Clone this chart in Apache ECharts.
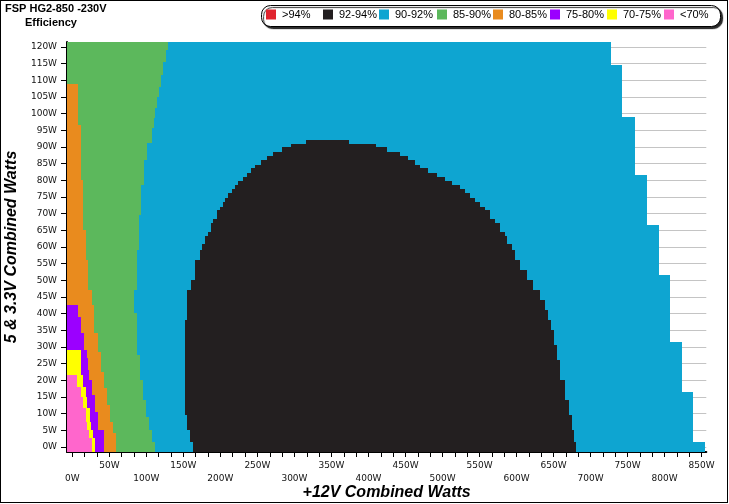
<!DOCTYPE html>
<html><head><meta charset="utf-8">
<script src="https://cdn.jsdelivr.net/npm/echarts@6/dist/echarts.min.js"></script>
<style>
html,body{margin:0;padding:0;background:#fff;}
#c{position:absolute;left:0;top:0;width:729px;height:504px;}
#frame{position:absolute;left:0;top:0;width:728px;height:503px;box-sizing:border-box;border:1px solid #000;pointer-events:none;}
</style></head>
<body><div id="c"></div><div id="frame"></div>
<script>
// ---- data (W units) : each step = [upper 5&3.3V watts of the step, +12V watts boundary]
const legendNames = ['>94%','92-94%','90-92%','85-90%','80-85%','75-80%','70-75%','<70%'];
const legendColors = ['#e0242e','#231f20','#0ea5d1','#5cb85c','#e98b1e','#9b00ff','#ffff00','#ff66cc'];
const maxLoadSteps = [[1.5,855],[16.5,839],[31.5,823],[51.5,807],[66.5,792],[81.5,776],[99,760],[114.5,743],[121.5,727]];
const greenSteps = [[1.5,111.6],[5.1,107.2],[9,103.5],[14.1,99.1],[20.1,95],[27.6,91.4],[40.2,86.9],[47.1,83.3],[59.1,86.7],[69.6,90],[78.6,92.7],[86.1,96.8],[91.1,101.5],[95.6,107.2],[98.6,110.3],[101.6,112],[105.1,113.9],[108.1,116.6],[111.6,119.7],[115.6,122.8],[119.1,126.1],[121.5,129.6]];
const orangeSteps = [[4.2,59],[7.5,54.5],[12.6,50.9],[17.7,46.4],[22.5,42.8],[28.5,38.3],[34.2,34.3],[42.6,29.7],[47.1,26.2],[56,21.5],[65.1,18],[80,14],[96.6,11.7],[108.9,7.3]];
const purpleSteps = [[5.1,42.8],[10.6,34.3],[15.6,30.6],[20.1,26.2],[23.1,23],[26.6,21.6],[29.1,19.4],[34.3,15.8],[38.9,11.7],[42.6,7.3]];
const yellowSteps = [[2.6,30.6],[5.1,28.3],[7.6,24.8],[11.6,23.9],[15.1,20.3],[18.1,18.5],[21.6,14.8],[29.1,11.7]];
const pinkSteps = [[2.6,26.2],[5.1,23],[7.6,20.3],[11.6,18.5],[15.1,14.8],[18.1,11.7],[21.6,6.7]];
// black (92-94%) rows: [upper watts, left +12V boundary, right +12V boundary]
const blackRows = [[1.5,162.9,679.9],[5.1,158.9,677.2],[9.6,154.8,674.5],[14.1,152.1,670.5],[20.1,152.1,665.1],[26.1,152.1,658.3],[30.6,152.1,654.3],[35.1,152.1,650.2],[38.1,152.1,646.2],[41.1,154.8,642.1],[44.1,154.8,638.1],[47.1,154.8,631.3],[50.1,160.2,621.9],[53.1,165.6,613.8],[56.1,165.6,604.3],[59.1,172.5,597.6],[60.9,175.5,593.6],[63.3,179.1,586.8],[64.6,182.8,584],[67.1,186.8,577.3],[68.3,190.3,570.5],[71.1,194.9,563.8],[72.1,199.4,557],[73.6,203,550.3],[74.6,206.1,543.6],[76.1,210.6,536.8],[77.3,215.2,530],[78.6,219.6,523.3],[79.9,224.1,512.5],[81.1,230.8,503],[82.3,235.4,492.3],[83.6,241.2,480.1],[84.6,246.6,469.3],[86.1,254.3,462.6],[87.3,262.4,453.1],[88.6,270.5,442.3],[89.9,282.7,425],[90.9,295.2,410],[92.1,315.5,373.5]];
const xLabelsUpper = [50,150,250,350,450,550,650,750,850];
const xLabelsLower = [0,100,200,300,400,500,600,700,800];
const yLabelValues = [0,5,10,15,20,25,30,35,40,45,50,55,60,65,70,75,80,85,90,95,100,105,110,115,120];

const XMIN = -7.2, XMAX = 856.3, YMIN = -1.5, YMAX = 121.5;
const xTickValues = []; for (let i = 0; i <= 51; i++) xTickValues.push(i * 50 / 3);
const yMinorTicks = []; for (let i = 0; i <= 121; i++) if (i % 5) yMinorTicks.push(i);

function leftBand(name, steps) {
  return {
    type: 'custom', name: name, clip: true, silent: true,
    itemStyle: { color: legendColors[legendNames.indexOf(name)] },
    encode: { x: 1, y: 0 },
    data: steps,
    renderItem: function (params, api) {
      const i = params.dataIndex;
      const yLo = i === 0 ? YMIN : steps[i - 1][0];
      const p0 = api.coord([XMIN, yLo]);
      const p1 = api.coord([api.value(1), api.value(0)]);
      const x0 = Math.round(p0[0]), x1 = Math.round(p1[0]);
      const y0 = Math.round(p1[1]), y1 = Math.round(p0[1]);
      return { type: 'rect', shape: { x: x0, y: y0, width: x1 - x0, height: y1 - y0 },
               style: { fill: api.visual('color') } };
    }
  };
}
const blackSeries = {
  type: 'custom', name: '92-94%', clip: true, silent: true,
  itemStyle: { color: legendColors[1] },
  encode: { x: [1, 2], y: 0 },
  data: blackRows,
  renderItem: function (params, api) {
    const i = params.dataIndex;
    const yLo = i === 0 ? YMIN : blackRows[i - 1][0];
    const p0 = api.coord([api.value(1), yLo]);
    const p1 = api.coord([api.value(2), api.value(0)]);
    const x0 = Math.round(p0[0]), x1 = Math.round(p1[0]);
    const y0 = Math.round(p1[1]), y1 = Math.round(p0[1]);
    return { type: 'rect', shape: { x: x0, y: y0, width: x1 - x0, height: y1 - y0 },
             style: { fill: api.visual('color') } };
  }
};

const legendX = [266, 323, 379, 437, 493, 550, 607, 664];
const legends = legendNames.map(function (n, i) {
  return { left: legendX[i], top: 9, padding: 0, data: [n], icon: 'rect', itemWidth: 10, itemHeight: 10,
           selectedMode: false, z: 10,
           textStyle: { fontFamily: 'Liberation Sans', fontSize: 11, color: '#000', padding: [0, 0, 0, 1] } };
});
const labelStyle = { fontFamily: 'DejaVu Sans', fontSize: 9, color: '#111' };

const chart = echarts.init(document.getElementById('c'), null, { renderer: 'canvas' });
chart.setOption({
  animation: false,
  backgroundColor: '#fff',
  title: [
    { text: 'FSP HG2-850 -230V', left: 5, top: 3, padding: 0,
      textStyle: { fontFamily: 'Liberation Sans', fontSize: 11, fontWeight: 'bold', color: '#000' } },
    { text: 'Efficiency', left: 25, top: 17, padding: 0,
      textStyle: { fontFamily: 'Liberation Sans', fontSize: 11, fontWeight: 'bold', color: '#000' } }
  ],
  legend: legends,
  graphic: [{
    type: 'rect', z: 1, silent: true,
    shape: { x: 261.5, y: 5.5, width: 459, height: 21, r: 9 },
    style: { fill: '#fff', stroke: '#000', lineWidth: 1, shadowColor: 'rgba(0,0,0,0.85)', shadowOffsetX: 2, shadowOffsetY: 2, shadowBlur: 1 }
  }],
  grid: { left: 67, right: 22.7, top: 42, bottom: 52, containLabel: false, outerBoundsMode: 'none' },
  xAxis: [{
    type: 'value', min: XMIN, max: XMAX, position: 'bottom',
    name: '+12V Combined Watts', nameLocation: 'middle', nameGap: 41,
    nameTextStyle: { fontFamily: 'Liberation Sans', fontSize: 16, fontWeight: 'bold', fontStyle: 'italic', color: '#000', verticalAlign: 'middle' },
    axisLine: { show: true, onZero: false, lineStyle: { color: '#000', width: 2 } },
    axisTick: { show: true, customValues: xTickValues, length: 5, lineStyle: { color: '#000', width: 1 } },
    axisLabel: Object.assign({ customValues: xLabelsUpper, margin: 9, formatter: function (v) { return Math.round(v) + 'W'; } }, labelStyle),
    splitLine: { show: false }
  }, {
    type: 'value', min: XMIN, max: XMAX, position: 'bottom',
    axisLine: { show: false }, axisTick: { show: false }, splitLine: { show: false },
    axisLabel: Object.assign({ customValues: xLabelsLower, margin: 22, formatter: function (v) { return Math.round(v) + 'W'; } }, labelStyle)
  }],
  yAxis: [{
    type: 'value', min: YMIN, max: YMAX, position: 'left',
    name: '5 & 3.3V Combined Watts', nameLocation: 'middle', nameGap: 50, nameRotate: 90,
    nameTextStyle: { fontFamily: 'Liberation Sans', fontSize: 16, fontWeight: 'bold', fontStyle: 'italic', color: '#000', verticalAlign: 'middle' },
    axisLine: { show: true, onZero: false, lineStyle: { color: '#000', width: 2 } },
    axisTick: { show: true, customValues: yLabelValues, length: 6, lineStyle: { color: '#000' } },
    axisLabel: Object.assign({ customValues: yLabelValues, margin: 10, formatter: function (v) { return Math.round(v) + 'W'; } }, labelStyle),
    splitLine: { show: true, lineStyle: { color: '#c4c4c4', width: 1 } }
  }, {
    type: 'value', min: YMIN, max: YMAX, position: 'left',
    axisLine: { show: false }, axisLabel: { show: false }, splitLine: { show: false },
    axisTick: { show: true, customValues: yMinorTicks, length: 3, lineStyle: { color: '#000' } }
  }],
  series: [
    leftBand('90-92%', maxLoadSteps),
    leftBand('85-90%', greenSteps),
    leftBand('80-85%', orangeSteps),
    leftBand('75-80%', purpleSteps),
    leftBand('70-75%', yellowSteps),
    leftBand('<70%', pinkSteps),
    blackSeries,
    { type: 'custom', name: '>94%', itemStyle: { color: legendColors[0] }, data: [], renderItem: function () { return null; } }
  ]
});
</script></body></html>
